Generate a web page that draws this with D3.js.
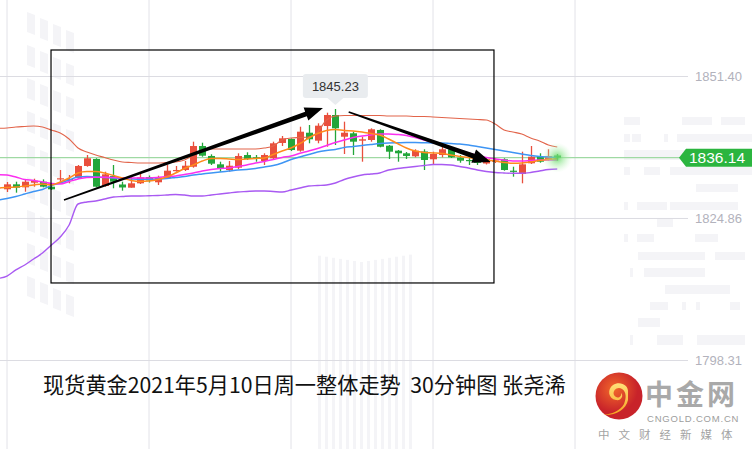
<!DOCTYPE html>
<html><head><meta charset="utf-8">
<script src="https://cdn.jsdelivr.net/npm/d3@7"></script>
<style>html,body{margin:0;padding:0;background:#fff;overflow:hidden}</style>
</head><body>
<svg id="c" width="752" height="449"></svg>
<script>
// ---------- DATA (30-minute candles, XAU/USD, 2021-05-10) ----------
const open  = [1830.22,1831.15,1830.59,1831.45,1831.64,1830.71,1832.09,1831.96,1832.33,1834.58,
               1835.89,1830.84,1832.71,1831.12,1830.52,1831.34,1832.52,1831.53,1832.28,1833.64,
               1833.83,1834.44,1838.31,1836.45,1834.89,1833.83,1834.26,1836.63,1836.20,1835.51,
               1836.02,1838.88,1839.62,1837.44,1840.80,1839.31,1842.05,1844.11,1840.05,1840.69,
               1839.31,1839.44,1841.31,1838.37,1837.44,1836.95,1836.39,1837.29,1835.83,1836.63,
               1837.70,1836.13,1835.70,1835.38,1835.04,1835.51,1835.83,1833.70,1833.08,1835.08,
               1836.31,1835.70,1836.54];
const high  = [1831.58,1831.64,1831.96,1832.20,1832.08,1830.93,1833.83,1832.89,1834.76,1836.63,
               1836.02,1833.51,1834.76,1831.64,1832.58,1833.21,1832.80,1832.76,1834.76,1834.58,
               1835.51,1839.12,1838.93,1836.76,1835.38,1835.51,1836.95,1837.14,1836.63,1836.95,
               1839.12,1840.18,1839.75,1841.92,1842.24,1842.56,1844.54,1845.23,1842.86,1840.99,
               1840.05,1841.62,1841.44,1838.50,1837.57,1837.19,1837.70,1837.70,1837.25,1838.18,
               1838.07,1836.63,1836.20,1835.70,1836.26,1836.07,1836.02,1834.44,1837.25,1838.31,
               1836.95,1837.70,1836.82];
const low   = [1829.72,1829.59,1829.77,1830.71,1830.59,1830.09,1831.34,1831.34,1832.15,1834.44,
               1830.59,1830.71,1830.41,1829.96,1830.52,1831.21,1831.49,1831.02,1832.15,1833.51,
               1833.64,1834.26,1836.31,1834.76,1833.51,1833.51,1834.02,1835.70,1835.38,1834.76,
               1835.70,1838.31,1837.38,1837.25,1838.82,1838.82,1838.18,1838.50,1836.82,1836.63,
               1835.38,1839.12,1838.07,1835.89,1835.38,1835.89,1836.20,1833.83,1834.76,1836.20,
               1836.07,1835.19,1834.76,1834.76,1834.86,1835.14,1833.70,1832.58,1831.34,1834.95,
               1835.19,1835.57,1835.57];
const close = [1831.15,1830.52,1831.64,1831.83,1830.71,1830.22,1832.28,1832.15,1834.58,1836.02,
               1830.71,1833.02,1831.64,1830.56,1831.34,1832.46,1831.87,1832.39,1833.70,1833.83,
               1834.63,1838.31,1836.50,1835.01,1834.15,1834.63,1836.45,1835.89,1835.98,1836.63,
               1838.82,1839.75,1837.57,1840.99,1839.57,1842.11,1844.11,1841.62,1840.80,1839.12,
               1839.57,1841.44,1838.18,1837.25,1836.95,1836.45,1837.44,1835.70,1836.82,1837.70,
               1836.20,1835.57,1835.51,1835.19,1835.83,1835.60,1833.83,1833.55,1834.89,1836.31,
               1835.38,1836.45,1836.14];
// indicator values start one bar before the first visible candle (index -1)
const bollUpper = [1841.62,1841.68,1841.87,1841.96,1842.05,1841.87,1841.31,1840.74,1839.62,1837.94,1837.19,
               1836.63,1836.17,1835.70,1835.32,1835.23,1835.14,1835.14,1835.14,1835.23,1835.32,
               1835.70,1836.63,1837.57,1837.75,1837.75,1837.75,1837.75,1837.75,1837.75,1837.94,
               1838.31,1839.44,1839.81,1839.90,1839.99,1840.93,1843.17,1843.92,1844.02,1844.02,
               1844.02,1844.02,1844.02,1843.92,1843.92,1843.92,1843.83,1843.83,1843.74,1843.64,
               1843.55,1843.46,1843.36,1843.27,1843.17,1842.43,1841.31,1840.93,1840.56,1839.81,
               1839.25,1838.50,1838.13];
const bollLower = [1813.55,1814.01,1815.14,1816.07,1817.19,1818.31,1819.81,1821.30,1823.55,1827.47,1827.85,
               1828.03,1828.41,1828.78,1828.87,1828.97,1828.97,1829.02,1829.06,1829.15,1829.25,
               1829.15,1828.97,1828.97,1829.15,1829.34,1829.53,1829.72,1829.81,1829.90,1829.90,
               1829.81,1829.72,1830.09,1830.46,1830.84,1830.93,1831.02,1831.40,1832.05,1832.52,
               1832.89,1833.08,1833.27,1833.83,1834.11,1834.30,1834.48,1834.67,1834.86,1834.86,
               1834.76,1834.48,1834.20,1833.83,1833.55,1833.36,1833.27,1833.21,1833.21,1833.36,
               1833.64,1833.92,1834.02];
const maBlue = [1828.22,1828.50,1828.87,1829.34,1829.81,1830.18,1830.93,1831.40,1831.96,1832.52,1832.61,
               1832.52,1832.43,1832.33,1832.24,1832.15,1832.09,1832.09,1832.15,1832.24,1832.43,
               1832.61,1832.89,1833.08,1833.27,1833.45,1833.64,1833.83,1833.92,1834.11,1834.39,
               1834.67,1835.14,1835.79,1836.26,1836.73,1837.19,1837.47,1837.66,1838.03,1838.22,
               1838.41,1838.60,1838.78,1838.88,1838.93,1838.97,1838.97,1838.93,1838.88,1838.88,
               1838.78,1838.69,1838.50,1838.22,1837.94,1837.66,1837.38,1837.10,1836.82,1836.54,
               1836.35,1836.26,1836.17];
const maOrange = [1830.46,1830.56,1830.65,1830.84,1831.02,1831.21,1831.02,1831.59,1832.33,1833.27,1833.55,
               1833.55,1833.27,1832.80,1832.33,1831.87,1831.68,1831.77,1832.05,1832.52,1833.27,
               1834.11,1834.76,1835.51,1835.98,1835.98,1835.89,1835.79,1835.89,1835.98,1836.07,
               1836.73,1837.38,1837.94,1838.78,1839.81,1840.65,1841.21,1841.40,1841.21,1841.12,
               1840.93,1840.65,1840.37,1839.62,1838.78,1837.94,1837.38,1837.10,1837.01,1836.91,
               1836.63,1836.35,1836.17,1835.89,1835.70,1835.51,1835.23,1835.08,1835.14,1835.32,
               1835.60,1835.79,1835.98];
const maMagenta = [1832.95,1832.89,1832.52,1832.05,1831.87,1831.59,1831.30,1831.21,1831.68,1832.15,1832.43,
               1832.46,1832.46,1832.43,1832.37,1832.33,1832.33,1832.33,1832.43,1832.61,1832.71,
               1832.99,1833.27,1833.64,1833.92,1834.11,1834.20,1834.48,1834.76,1835.14,1835.42,
               1835.79,1836.17,1836.45,1836.95,1837.38,1837.85,1838.41,1838.97,1839.44,1839.90,
               1840.18,1840.37,1840.56,1840.56,1840.46,1840.28,1839.90,1839.44,1838.97,1838.50,
               1837.94,1837.57,1837.01,1836.54,1836.17,1835.89,1835.70,1835.51,1835.51,1835.60,
               1835.70,1835.70,1835.70];
const lineStartIdx = -1;
const yTicks = [1798.31, 1824.86, 1851.40];
const xGridIdx = [0, 16, 32, 48, 64];
const lastPrice = 1836.14;
const peakIdx = 37, peakPrice = 1845.23;
// annotation (candle index, price)
const boxArea = {i0: 4.96, i1: 54.87, p0: 1812.71, p1: 1856.26};
const arrows = [
  {from:[6.42,1828.22], to:[35.6,1845.42]},
  {from:[38.5,1844.67], to:[54.5,1835.32]}
];
const title = "现货黄金2021年5月10日周一整体走势\u00a0\u00a030分钟图 张尧浠";

// ---------- CHART ----------
const svg = d3.select("#c");
const W = 752, H = 449;
const x = d3.scaleLinear().domain([0, 62]).range([7, 557.25]);
const y = d3.scaleLinear().domain([1798.31, 1851.40]).range([360, 76]);
const RED = "#e94f3d", GREEN = "#22a63a";

// watermark decoration
const deco = svg.append("g").attr("fill", "#f4f4f7");
const decoRects = [
 [624,117,16,8],[682,117,30,8],[721,117,24,8],
 [624,134,6,8],[632,134,9,8],[664,134,4,8],[677,134,75,8],
 [624,150,66,10],[624,167,6,8],[644,167,16,8],[670,167,82,8],
 [696,184,42,8],[624,202,4,8],[637,202,30,8],[670,202,68,8],
 [657,219,16,8],[624,234,4,8],[637,234,17,8],[695,234,23,8],
 [638,252,67,8],[715,252,30,8],[630,268,3,9],[644,268,61,9],
 [665,285,65,9],[650,302,18,8],[682,302,4,8],[696,302,4,8],[730,302,10,8],
 [638,318,22,9],[630,335,3,10],[657,335,26,10],[697,335,48,10]
];
deco.selectAll("rect.d").data(decoRects).join("rect")
  .attr("x",d=>d[0]).attr("y",d=>d[1]).attr("width",d=>d[2]).attr("height",d=>d[3]);
const win = [];
for (let c = 0; c < 4; c++) for (let r = 0; r < 9; r++) win.push([27 + c*13, 12 + r*33 + c*6]);
deco.selectAll("path.w").data(win).join("path")
  .attr("d", d => `M${d[0]},${d[1]}l8,3v20l-8,-3z`);
const cols = d3.range(0, 14).map(k => 318 + k*7);
deco.selectAll("rect.c").data(cols).join("rect")
  .attr("x", d => d).attr("y", d => 262 - Math.abs(d-360)*0.15).attr("width", 3).attr("height", 200);

// grid
svg.append("g").selectAll("line").data(xGridIdx).join("line")
  .attr("x1", d => x(d)).attr("x2", d => x(d)).attr("y1", 0).attr("y2", H)
  .attr("stroke", "#e2e2e8").attr("stroke-width", 1);
const yAxis = svg.append("g").attr("transform", "translate(688,0)")
  .call(d3.axisRight(y).tickValues(yTicks).tickSize(-688).tickPadding(7).tickFormat(d3.format(".2f")));
yAxis.select(".domain").remove();
yAxis.selectAll("line").attr("stroke", "#dcdce2");
yAxis.selectAll("text").attr("fill", "#b2b2bc").style("font-family", "'Liberation Sans', Arial, sans-serif").style("font-size", "13px");

// current price line
svg.append("line").attr("x1", 0).attr("x2", 682).attr("y1", y(lastPrice)).attr("y2", y(lastPrice))
  .attr("stroke", "#9fd9a3").attr("stroke-width", 1.2);

// candles
const idx = d3.range(open.length);
const cg = svg.append("g");
cg.selectAll("line").data(idx).join("line")
  .attr("x1", i => Math.round(x(i)) + 0.5).attr("x2", i => Math.round(x(i)) + 0.5)
  .attr("y1", i => y(high[i])).attr("y2", i => y(low[i]))
  .attr("stroke", i => close[i] >= open[i] ? RED : GREEN).attr("stroke-width", 1.3);
cg.selectAll("rect").data(idx).join("rect")
  .attr("x", i => Math.round(x(i)) - 3).attr("width", 7)
  .attr("y", i => y(Math.max(open[i], close[i])))
  .attr("height", i => Math.max(1.2, Math.abs(y(open[i]) - y(close[i]))))
  .attr("fill", i => close[i] >= open[i] ? RED : GREEN);

// indicator lines
const line = d3.line().x((d, i) => x(i + lineStartIdx)).y(d => y(d)).curve(d3.curveMonotoneX);
[[bollUpper, "#e2644a", 1.1], [bollLower, "#a95af2", 1.4], [maBlue, "#3e95f4", 1.5],
 [maMagenta, "#fb2ff0", 1.5], [maOrange, "#ff8a1c", 1.5]].forEach(([d, c, w]) => {
  svg.append("path").datum(d).attr("d", line).attr("fill", "none").attr("stroke", c).attr("stroke-width", w);
});

// glow at last price
const defs = svg.append("defs");
const rg = defs.append("radialGradient").attr("id", "glow");
rg.append("stop").attr("offset", "0%").attr("stop-color", "#5fd65f").attr("stop-opacity", 0.9);
rg.append("stop").attr("offset", "40%").attr("stop-color", "#8fe58f").attr("stop-opacity", 0.55);
rg.append("stop").attr("offset", "100%").attr("stop-color", "#c8f5c8").attr("stop-opacity", 0);
svg.append("circle").attr("cx", x(62)).attr("cy", y(lastPrice)).attr("r", 15).attr("fill", "url(#glow)");

// price label on the right
const ly = y(lastPrice);
svg.append("path").attr("d", `M679,${ly}L686,${ly-9}H752V${ly+9}H686Z`).attr("fill", "#2bb53f");
svg.append("text").attr("x", 689).attr("y", ly + 5.5).text(d3.format(".2f")(lastPrice))
  .attr("fill", "#fff").style("font-family", "'Liberation Sans', Arial, sans-serif").style("font-size", "15.5px");

// peak tooltip
const px = x(peakIdx), py = y(peakPrice);
svg.append("path").attr("d", `M${px-8},${py-11}L${px},${py-4}L${px+8},${py-11}Z`).attr("fill", "#e9ecef");
svg.append("rect").attr("x", px - 32.5).attr("y", py - 35).attr("width", 65).attr("height", 24).attr("rx", 3).attr("fill", "#e9ecef");
svg.append("text").attr("x", px).attr("y", py - 18.5).attr("text-anchor", "middle").text(d3.format(".2f")(peakPrice))
  .attr("fill", "#333").style("font-family", "'Liberation Sans', Arial, sans-serif").style("font-size", "13px");

// annotation box
svg.append("rect").attr("x", x(boxArea.i0)).attr("y", y(boxArea.p1))
  .attr("width", x(boxArea.i1) - x(boxArea.i0)).attr("height", y(boxArea.p0) - y(boxArea.p1))
  .attr("fill", "none").attr("stroke", "#000").attr("stroke-width", 1.2);

// tapered arrows
arrows.forEach(a => {
  const x0 = x(a.from[0]), y0 = y(a.from[1]), x1 = x(a.to[0]), y1 = y(a.to[1]);
  const dx = x1 - x0, dy = y1 - y0, L = Math.hypot(dx, dy), ux = dx / L, uy = dy / L, nx = -uy, ny = ux;
  const hl = 18, hw = 7, w0 = 0.8, w1 = 2.5;
  const bx = x1 - ux * hl, by = y1 - uy * hl;
  const pts = [[x0 + nx*w0, y0 + ny*w0], [bx + nx*w1, by + ny*w1], [bx + nx*hw, by + ny*hw], [x1, y1],
               [bx - nx*hw, by - ny*hw], [bx - nx*w1, by - ny*w1], [x0 - nx*w0, y0 - ny*w0]];
  svg.append("path").attr("d", "M" + pts.map(p => p.join(",")).join("L") + "Z").attr("fill", "#000");
});

// title
svg.append("text").attr("x", 43).attr("y", 393).text(title)
  .attr("fill", "#111").style("font-family", "'Noto Sans CJK SC', sans-serif").style("font-size", "21.2px");

// logo
const lg = defs.append("radialGradient").attr("id", "logo").attr("cx", "40%").attr("cy", "35%");
lg.append("stop").attr("offset", "0%").attr("stop-color", "#f2682a");
lg.append("stop").attr("offset", "100%").attr("stop-color", "#c8232a");
const yg = defs.append("linearGradient").attr("id", "sw").attr("x1", "0").attr("y1", "0").attr("x2", "0").attr("y2", "1");
yg.append("stop").attr("offset", "0%").attr("stop-color", "#ffe27a");
yg.append("stop").attr("offset", "100%").attr("stop-color", "#f7a21e");
svg.append("circle").attr("cx", 619).attr("cy", 396).attr("r", 23.5).attr("fill", "url(#logo)");
svg.append("path").attr("d", "M628,393 C629,384 619,381 613,385 C607,389 608,399 616,400 C621,401 624,396 621,393 C622,398 616,399 614,395 C612,390 618,386 622,389 C627,392 626,399 624,404 C620,411 612,414 603,415 C615,416 626,410 628,400 Z")
  .attr("fill", "url(#sw)");
svg.append("text").attr("x", 645).attr("y", 405).text("中金网").attr("fill", "#a9a9a9")
  .style("font-family", "'Noto Sans CJK SC', sans-serif").style("font-weight", "bold").style("font-size", "28px")
  .style("letter-spacing", "3px");
svg.append("text").attr("x", 647).attr("y", 422.3).text("CNGOLD.COM.CN").attr("fill", "#9d9d9d")
  .style("font-family", "'Liberation Sans', Arial, sans-serif").style("font-size", "9.5px").style("letter-spacing", "0.8px");
svg.append("text").attr("x", 598).attr("y", 438.5).text("中文财经新媒体").attr("fill", "#a3a3a3")
  .style("font-family", "'Noto Sans CJK SC', sans-serif").style("font-size", "11.5px").style("letter-spacing", "9px");
</script>
</body></html>
